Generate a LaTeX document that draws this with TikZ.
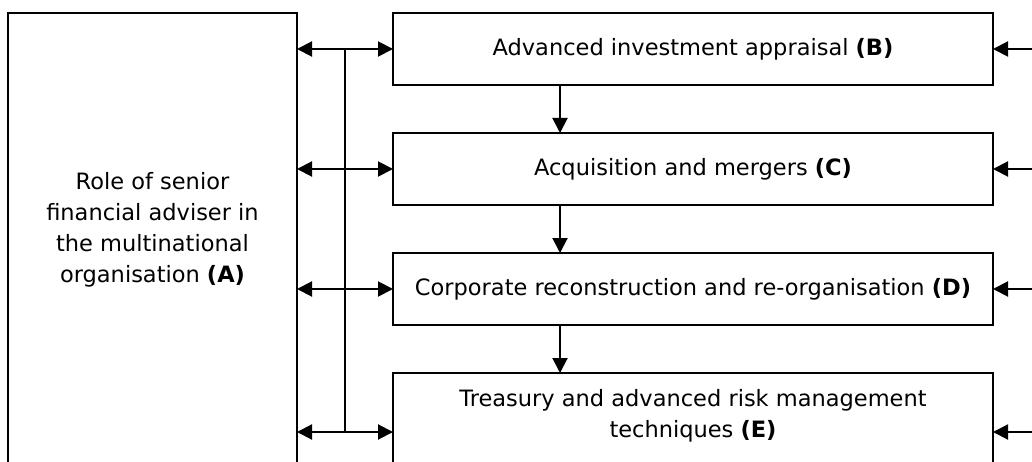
\documentclass[tikz,border=0pt]{standalone}
\usepackage{tikz}
\usepackage{xcolor}
\usepackage{fontspec}
\setmainfont{DejaVu Sans}
\usetikzlibrary{shapes,arrows.meta,positioning,calc}

\begin{document}
\begin{tikzpicture}[x=1pt, y=1pt, line width=2pt,
		box/.style={rectangle, draw, minimum width=600pt, minimum height=72pt, inner sep=0pt, outer sep=0pt},
		txt/.style={font=\fontsize{22.5}{31}\selectfont, align=center},
		arr/.style={-{Triangle[length=15pt,width=15pt]}},
		dblarr/.style={{Triangle[length=15pt,width=15pt]}-{Triangle[length=15pt,width=15pt]}}]
				\useasboundingbox (0,0) rectangle (1032,-462);
				\clip (0,0) rectangle (1032,-462);
				
				\node[rectangle, draw, outer sep=0pt, minimum width=289pt, minimum height=500pt, anchor=north west] (A) at (8,-13) {};
				\node[txt, yshift=33pt] (Atext) at (A.center) {Role of senior\\financial adviser in\\the multinational\\organisation \textbf{(A)}};
				
				\node[box, txt] (B) at (693,-49) {Advanced investment appraisal \textbf{(B)}};
				\node[box, txt, below=48pt of B] (C) {Acquisition and mergers \textbf{(C)}};
				\node[box, txt, below=48pt of C] (D) {Corporate reconstruction and re-organisation \textbf{(D)}};
				\node[box, minimum height=118pt, below=48pt of D] (E) {};
				\node[txt, yshift=16pt] (Etext) at (E.center) {Treasury and advanced risk management\\techniques \textbf{(E)}};
				
				% links to the role box
				\coordinate (top) at ($(A.east |- B.west)!0.5!(B.west)$);
				\coordinate (bot) at ($(A.east |- E.west)!0.5!(E.west)$);
				\draw (top) -- (bot);
				\foreach \n in {B,C,D,E}
					\draw[dblarr] (A.east |- \n.west) -- (\n.west);
				
				% inputs from the right
				\foreach \n in {B,C,D,E} {
					\coordinate (in\n) at ([xshift=45pt]\n.east);
					\draw[arr] (in\n) -- (\n.east);
				}
				
				% flow down the topics
				\coordinate (col) at (560,0);
				\draw[arr] (B.south -| col) -- (C.north -| col);
				\draw[arr] (C.south -| col) -- (D.north -| col);
				\draw[arr] (D.south -| col) -- (E.north -| col);
			\end{tikzpicture}
\end{document}
